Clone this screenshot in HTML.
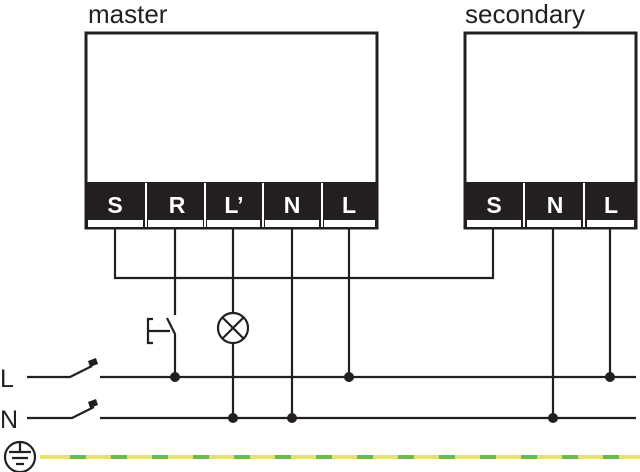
<!DOCTYPE html><html><head><style>body{margin:0;background:#fff}svg{display:block}</style></head><body>
<svg width="640" height="472" viewBox="0 0 640 472" xmlns="http://www.w3.org/2000/svg" font-family="Liberation Sans, sans-serif">
<text x="88" y="23" font-size="26" fill="#231f20">master</text>
<text x="465" y="23" font-size="26" fill="#231f20">secondary</text>
<text x="0" y="387" font-size="25" fill="#231f20">L</text>
<text x="0" y="428" font-size="25" fill="#231f20">N</text>
<g fill="#fff" stroke="#231f20" stroke-width="3">
<rect x="86" y="33" width="291" height="195"/>
<rect x="465" y="33" width="171" height="195"/>
</g>
<rect x="86" y="182" width="291" height="46" fill="#231f20"/>
<rect x="465" y="182" width="171" height="46" fill="#231f20"/>
<g fill="#fff">
<rect x="88" y="220" width="55" height="7"/><rect x="148" y="220" width="55" height="7"/><rect x="207" y="220" width="53" height="7"/><rect x="265" y="220" width="54" height="7"/><rect x="324" y="220" width="51" height="7"/>
<rect x="467" y="220" width="54" height="7"/><rect x="527" y="220" width="54" height="7"/><rect x="587" y="220" width="47" height="7"/>
<rect x="145" y="183" width="2" height="44"/><rect x="204" y="183" width="2" height="44"/><rect x="262" y="183" width="2" height="44"/><rect x="321" y="183" width="2" height="44"/>
<rect x="523" y="183" width="2" height="44"/><rect x="583" y="183" width="2" height="44"/>
</g>
<g fill="#fff" font-weight="bold" font-size="23" text-anchor="middle">
<text x="115" y="213">S</text><text x="177" y="213">R</text><text x="234" y="213">L’</text><text x="292" y="213">N</text><text x="349" y="213">L</text>
<text x="494" y="213">S</text><text x="555" y="213">N</text><text x="611" y="213">L</text>
</g>
<g fill="none" stroke="#231f20" stroke-width="2.2">
<path d="M115 228V278H493V228"/>
<path d="M175 228V315M167 318L175 334V377M148 331H170M153 319H148V343H153"/>
<path d="M233 228V313M233 343V418"/>
<circle cx="233" cy="328" r="15"/>
<path d="M222 317L244 339M244 317L222 339"/>
<path d="M292 228V418M349 228V377M553 228V418M610 228V377"/>
<path d="M27 377H70L92 366M100 377H636"/>
<path d="M27 418H72L94 407M100 418H636"/>
<circle cx="20" cy="457" r="15"/>
<path d="M20 443V452M9 452H31M12 458H28M16 464H24"/>
</g>
<g fill="#231f20">
<path d="M88 361l8-3 2 6-8 3z"/><path d="M88 402l8-3 2 6-8 3z"/>
<circle cx="175" cy="377" r="5"/><circle cx="349" cy="377" r="5"/><circle cx="610" cy="377" r="5"/>
<circle cx="233" cy="418" r="5"/><circle cx="292" cy="418" r="5"/><circle cx="553" cy="418" r="5"/>
</g>
<line x1="40" y1="457" x2="640" y2="457" stroke="#e3e46a" stroke-width="4"/>
<line x1="70" y1="457" x2="640" y2="457" stroke="#6cbb4a" stroke-width="4" stroke-dasharray="16 25"/>
</svg>
</body></html>
